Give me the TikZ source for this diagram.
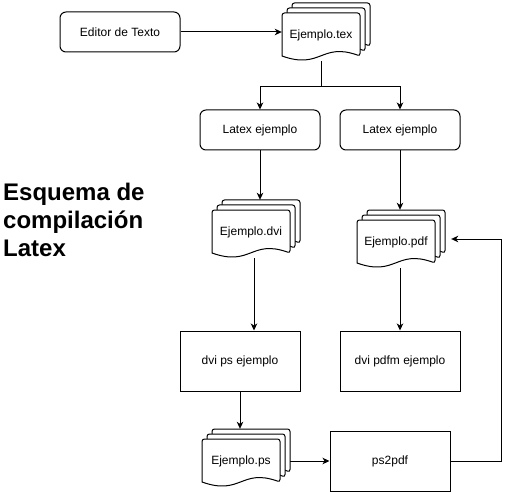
\documentclass[tikz,border=0pt]{standalone}
\usepackage{fontspec}
\setmainfont{Liberation Sans}
\usetikzlibrary{arrows.meta}
\tikzset{
  box/.style={draw, line width=1pt, minimum width=120pt, minimum height=40pt, inner sep=0pt, font=\fontsize{12}{14}\selectfont},
  rbox/.style={box, rounded corners=6pt},
  sqbox/.style={box, minimum height=60pt},
  conn/.style={line width=1pt, -{Stealth[length=7pt,width=6.5pt,inset=2pt]}},
  plain/.style={line width=1pt},
  page/.style={draw, fill=white, line width=1pt},
  doclabel/.style={font=\fontsize{12}{14}\selectfont, inner sep=0pt},
  stackbox/.style={inner sep=0pt, minimum width=88pt, minimum height=58pt},
}
\newcommand\docpage[2]{%
  \draw[page] (#1+78,#2+43) .. controls (#1+39,#2+29) and (#1+39,#2+57) .. (#1,#2+43)
    [rounded corners=2.5pt] -- (#1,#2) -- (#1+78,#2) -- cycle;}
\newcommand\docstack[4]{%
  \docpage{#2+10}{#3}
  \docpage{#2+5}{#3+5}
  \docpage{#2}{#3+10}
  \node[stackbox] (#1box) at (#2+44,#3+29) {};
  \node[doclabel] (#1) at (#2+39,#3+32) {#4};
}
\begin{document}
\begin{tikzpicture}[x=1pt, y=-1pt]
\useasboundingbox (0,0) rectangle (509,492);

% title
\node[align=left, anchor=north west, inner sep=0pt, font=\bfseries\fontsize{24}{28}\selectfont] (title) at (3,183) {Esquema de\\compilación\\Latex};

% boxes
\node[rbox] (editor) at (120,32) {Editor de Texto};
\node[rbox] (latexA) at (260,130) {Latex ejemplo};
\node[rbox] (latexB) at (400,130) {Latex ejemplo};
\node[sqbox] (dvips) at (240,361) {dvi ps ejemplo};
\node[sqbox] (dvipdfm) at (400,361) {dvi pdfm ejemplo};
\node[sqbox] (pstopdf) at (390,461) {ps2pdf};

% document stacks
\docstack{tex}{282}{3}{Ejemplo.tex}
\docstack{dvi}{212}{200}{Ejemplo.dvi}
\docstack{pdf}{357}{210}{Ejemplo.pdf}
\docstack{ps}{202}{429}{Ejemplo.ps}

% connectors
\draw[conn] (editor.east) -- (editor.east -| texbox.west);
\coordinate (split) at (321,87);
\draw[plain] ([xshift=-5pt]texbox.south) -- (split);
\draw[conn] (split) -| (latexA.north);
\draw[conn] (split) -| (latexB.north);
\draw[conn] (latexA.south) -- (latexA.south |- dvibox.north);
\draw[conn] (latexB.south) -- (latexB.south |- pdfbox.north);
\draw[conn] ([xshift=-2pt]dvibox.south) -- ([xshift=-2pt]dvibox.south |- dvips.north);
\draw[conn] (dvipdfm.north |- pdfbox.south) -- (dvipdfm.north);
\draw[conn] (dvips.south) -- (dvips.south |- psbox.north);
\draw[conn] (psbox.east |- pstopdf.west) -- (pstopdf.west);
\draw[conn] (pstopdf.east) -- ++(51,0) |- ([xshift=6pt]pdfbox.east);
\end{tikzpicture}
\end{document}
